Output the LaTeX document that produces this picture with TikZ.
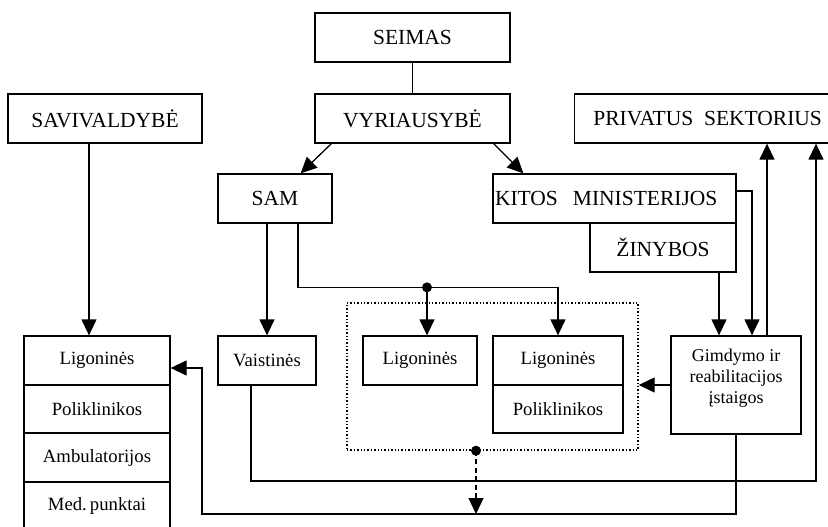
\documentclass[tikz,border=0pt]{standalone}
\usepackage{fontspec}
\setmainfont{Liberation Serif}
\usetikzlibrary{arrows.meta,calc}

\tikzset{
  box/.style={draw, line width=1.3pt, inner sep=0pt, align=center},
  big/.style={font=\fontsize{21.5}{25}\selectfont},
  small/.style={font=\fontsize{18.7}{22}\selectfont},
  wire/.style={line width=1.3pt},
  arr/.style={wire, -{Triangle[length=16pt,width=15pt]}},
  dot/.style={circle, fill, inner sep=0pt, minimum size=10pt},
}

\begin{document}
\begin{tikzpicture}[x=1pt, y=-1pt]
\useasboundingbox (0,0) rectangle (828,527);
\clip (0,0) rectangle (828,527);

% top level
\node[box, big, minimum width=195, minimum height=49] (seimas) at (412.5,37.5) {SEIMAS};
\node[box, big, minimum width=195, minimum height=49] (vyr) at (412.5,118.5) {VYRIAUSYBĖ};
\node[box, big, minimum width=194, minimum height=49] (sav) at (105,118.5) {SAVIVALDYBĖ};
\node[box, big, minimum width=266, minimum height=49, anchor=west] (priv) at (574,118.5) {PRIVATUS\ \ SEKTORIUS};

% ministries
\node[box, big, minimum width=243, minimum height=49, text width=239, align=left] (kitos) at (614.5,198.5) {KITOS\hspace{15pt}MINISTERIJOS};
\node[box, big, minimum width=114, minimum height=49] (sam) at (275,198.5) {SAM};
\node[box, big, minimum width=146, minimum height=49] (zin) at (663,247.5) {ŽINYBOS};

% municipal institutions
\node[box, small, minimum width=146, minimum height=49] (ligA) at (97,360.5) {Ligoninės};
\node[box, small, minimum width=146, minimum height=48] (polA) at (97,409) {Poliklinikos};
\node[box, small, minimum width=146, minimum height=49] (ambA) at (97,457.5) {Ambulatorijos};
\node[box, small, minimum width=146, minimum height=49] (medA) at (97,506.5) {Med.\,punktai};

% state institutions
\node[box, small, minimum width=98, minimum height=49] (vaist) at (267,360.5) {Vaistinės};
\node[draw, line width=1.4pt, dotted, minimum width=291, minimum height=147, inner sep=0pt] (grp) at (492.5,376.5) {};
\node[box, small, minimum width=114, minimum height=49] (ligB) at (420,360.5) {Ligoninės};
\node[box, small, minimum width=130, minimum height=49] (ligC) at (558,360.5) {Ligoninės};
\node[box, small, minimum width=130, minimum height=48] (polC) at (558,409) {Poliklinikos};
\node[box, minimum width=130, minimum height=98,
      label={[font=\fontsize{18}{21}\selectfont, align=center, yshift=7pt]center:Gimdymo ir\\reabilitacijos\\įstaigos}]
      (gimd) at (736,385) {};

% helper points of the long return lines
\coordinate (r1) at (816,481);
\coordinate (b1) at (202,514);

% government hierarchy
\draw[wire] (seimas.south) -- (vyr.north);
\draw[arr] ([xshift=17]vyr.south west) -- ([xshift=-32]sam.north east);
\draw[arr] ([xshift=-17]vyr.south east) -- ([xshift=31]kitos.north west);
\draw[arr] ([xshift=-16]sav.south) -- ([xshift=-8]ligA.north);

% SAM to its institutions
\draw[arr] (vaist.north |- sam.south) -- (vaist.north);
\draw[arr] ([xshift=23]sam.south) |- ([yshift=48]ligC.north) -- (ligC.north);
\node[dot] (j1) at ($(ligB.north)+(7,-48)$) {};
\draw[arr] (j1.center) -- (j1.center |- ligB.north);

% other ministries
\draw[arr] ([xshift=56]zin.south) -- ([xshift=56]zin.south |- gimd.north);
\draw[arr] ([yshift=7.5]kitos.east) -| ([xshift=16]gimd.north);
\draw[arr] ([xshift=31]gimd.north) -- ([xshift=31]gimd.north |- priv.south);
\draw[arr] (gimd.west) -- (gimd.west -| grp.east);

% return lines
\draw[arr] ([xshift=-16]vaist.south) |- (r1) -- (r1 |- priv.south);
\draw[arr] (gimd.south) |- (b1) |- ([yshift=-7.5]ligA.east);
\node[dot] (j2) at ([xshift=-16.5]grp.south) {};
\draw[arr, dash pattern=on 5pt off 3.5pt] (j2.center) -- (j2.center |- b1);
\end{tikzpicture}
\end{document}
